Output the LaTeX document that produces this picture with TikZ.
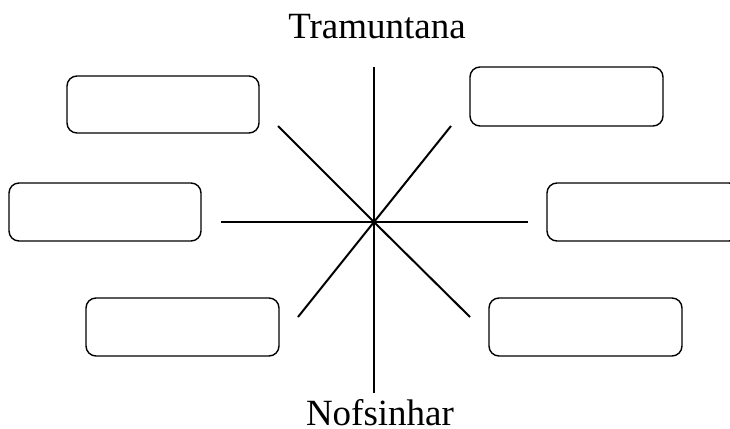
\documentclass[tikz,border=0pt]{standalone}
\usepackage{fontspec}
\setmainfont{Liberation Serif}
\begin{document}
\begin{tikzpicture}[x=1pt,y=-1pt,
  blank/.style={draw, line width=1.4pt, rounded corners=10pt, inner sep=0pt},
  ray/.style={line width=2pt},
  axis/.style={line width=1.3pt},
  label/.style={font=\fontsize{37}{40}\selectfont, anchor=base, inner sep=0pt}]
\clip (0,0) rectangle (730,428);
\fill[white] (0,0) rectangle (730,428);
% boxes
\node[blank, minimum width=192pt, minimum height=57pt] (tl) at (163,104.5) {};
\node[blank, minimum width=192pt, minimum height=58pt] (ml) at (105,212) {};
\node[blank, minimum width=193pt, minimum height=58pt] (bl) at (182.5,327) {};
\node[blank, minimum width=193pt, minimum height=59pt] (tr) at (566.5,96.5) {};
\node[blank, minimum width=192pt, minimum height=58pt] (mr) at (643,212) {};
\node[blank, minimum width=193pt, minimum height=58pt] (br) at (585.5,327) {};
% rays
\coordinate (c) at (374,222);
\coordinate (nw) at (278,126);
\coordinate (w) at (221,222);
\coordinate (sw) at (298,317);
\coordinate (ne) at (451,126);
\coordinate (e) at (528,222);
\coordinate (se) at (470,317);
\coordinate (n) at (374,67);
\coordinate (s) at (374,393);
\draw[axis] (n) -- (s);
\draw[ray] (nw) -- (c) -- (se);
\draw[ray] (sw) -- (c) -- (ne);
\draw[ray] (w) -- (c) -- (e);
% labels
\node[label] (north) at (377,38) {Tramuntana};
\node[label] (south) at (380,425) {Nofsinhar};
\end{tikzpicture}
\end{document}
